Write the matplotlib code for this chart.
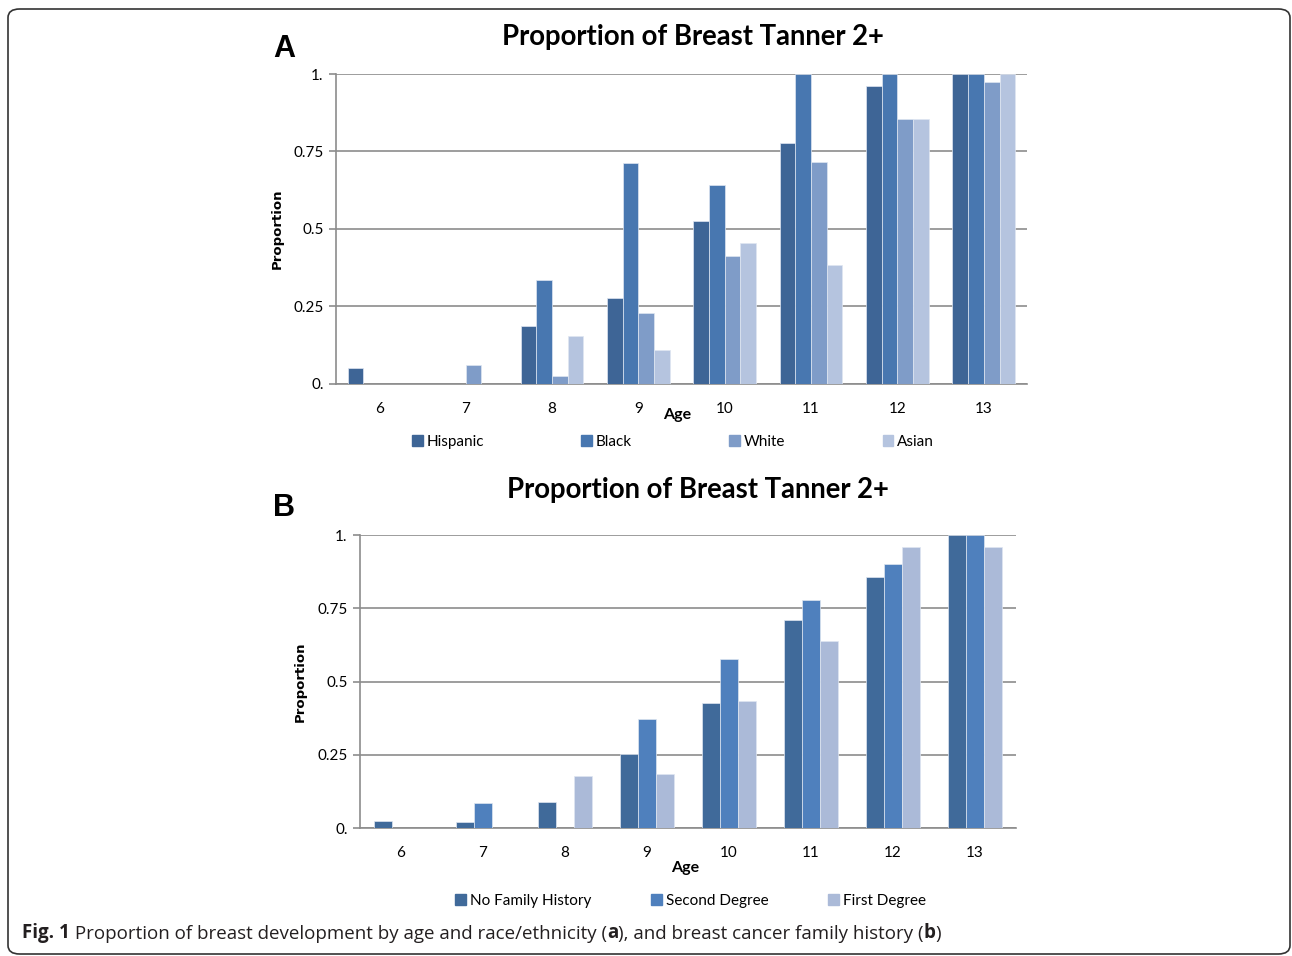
import numpy as np
import matplotlib
matplotlib.use("Agg")
import matplotlib.pyplot as plt
from matplotlib.patches import FancyBboxPatch, Patch

# ---- data ----
ages = ["6", "7", "8", "9", "10", "11", "12", "13"]

race_labels = ["Hispanic", "Black", "White", "Asian"]
hispanic = [0.053, 0.0, 0.187, 0.277, 0.526, 0.776, 0.962, 1.0]
black = [0.0, 0.0, 0.334, 0.713, 0.643, 1.0, 1.0, 1.0]
white = [0.0, 0.061, 0.025, 0.230, 0.412, 0.717, 0.856, 0.975]
asian = [0.0, 0.0, 0.155, 0.110, 0.454, 0.384, 0.856, 1.0]

hist_labels = ["No Family History", "Second Degree", "First Degree"]
no_history = [0.025, 0.022, 0.090, 0.254, 0.427, 0.711, 0.857, 1.0]
second_degree = [0.0, 0.084, 0.0, 0.372, 0.578, 0.778, 0.900, 1.0]
first_degree = [0.0, 0.0, 0.177, 0.185, 0.434, 0.639, 0.958, 0.960]

yticks = [0, 0.25, 0.5, 0.75, 1.0]
ytick_labels = ["0.", "0.25", "0.5", "0.75", "1."]

race_colors = ["#3E6596", "#4877B0", "#7F9CC8", "#B5C4DF"]
hist_colors = ["#406A9A", "#4F80BD", "#ABBAD8"]

W, H = 1292, 956
FONT = "Lato"


def fx(px):
    return px / W


def fy(py):
    return 1 - py / H


def draw_panel(ax, series, labels, colors):
    n = len(series)
    # Excel-like gap width of 150%
    width = 1.0 / (n + 1.5)
    x = np.arange(len(ages))
    for i, (vals, lab, col) in enumerate(zip(series, labels, colors)):
        offs = (i - (n - 1) / 2) * width
        ax.bar(x + offs, vals, width, color=col, label=lab,
               edgecolor="#dfe6f1", linewidth=0.5, zorder=3)
    ax.set_xlim(-0.5, len(ages) - 0.5)
    ax.set_ylim(0, 1.0)
    ax.set_xticks(x)
    ax.set_xticklabels(ages, family=FONT, fontsize=11)
    ax.set_yticks(yticks)
    ax.set_yticklabels(ytick_labels, family=FONT, fontsize=11)
    ax.tick_params(axis="x", length=0, pad=13)
    ax.tick_params(axis="y", length=5, color="#8c8c8c", width=1.2, pad=4)
    ax.grid(axis="y", color="#8c8c8c", linewidth=1.2, zorder=0)
    for s in ["top", "right"]:
        ax.spines[s].set_visible(False)
    for s in ["left", "bottom"]:
        ax.spines[s].set_color("#8c8c8c")
        ax.spines[s].set_linewidth(1.2)


def add_legend(labels, colors, x0, x1, y, ncol):
    handles = [Patch(color=c, label=l) for c, l in zip(colors, labels)]
    fig.legend(handles=handles, loc="center left", ncol=ncol, mode="expand",
               bbox_to_anchor=(fx(x0), fy(y), fx(x1) - fx(x0), 0.0001),
               frameon=False, prop={"family": FONT, "size": 11},
               handlelength=0.7, handleheight=0.7, handletextpad=0.25,
               borderaxespad=0, borderpad=0)


fig = plt.figure(figsize=(W / 100, H / 100), dpi=100)

# rounded frame around the whole figure
frame = FancyBboxPatch((fx(8), fy(954)), fx(1290) - fx(8), fy(9) - fy(954),
                       boxstyle="round,pad=0,rounding_size=0.009",
                       transform=fig.transFigure, fill=False,
                       edgecolor="#333333", linewidth=1.2)
fig.patches.append(frame)

# ---- panel A ----
axA = fig.add_axes([fx(336), fy(384), fx(1027) - fx(336), fy(74) - fy(384)])
draw_panel(axA, [hispanic, black, white, asian], race_labels, race_colors)
fig.text(fx(693), fy(37), "Proportion of Breast Tanner 2+", ha="center", va="center",
         family=FONT, fontweight="bold", fontsize=19.8)
fig.text(fx(284), fy(49), "A", ha="center", va="center",
         family="Liberation Sans", fontweight="bold", fontsize=22)
fig.text(fx(277), fy(229), "Proportion", rotation=90, ha="center", va="center",
         family="DejaVu Sans", fontweight="bold", fontsize=9.5)
fig.text(fx(677), fy(415), "Age", ha="center", va="center",
         family=FONT, fontweight="bold", fontsize=11.5)
add_legend(race_labels, race_colors, 412, 934, 442, 4)

# ---- panel B ----
axB = fig.add_axes([fx(360), fy(828), fx(1016) - fx(360), fy(535) - fy(828)])
draw_panel(axB, [no_history, second_degree, first_degree], hist_labels, hist_colors)
fig.text(fx(698), fy(490), "Proportion of Breast Tanner 2+", ha="center", va="center",
         family=FONT, fontweight="bold", fontsize=19.8)
fig.text(fx(284), fy(508), "B", ha="center", va="center",
         family="Liberation Sans", fontweight="bold", fontsize=22)
fig.text(fx(300), fy(682), "Proportion", rotation=90, ha="center", va="center",
         family="DejaVu Sans", fontweight="bold", fontsize=9.5)
fig.text(fx(685), fy(868), "Age", ha="center", va="center",
         family=FONT, fontweight="bold", fontsize=11.5)
add_legend(hist_labels, hist_colors, 455, 926, 901, 3)

# ---- caption with mixed bold / regular pieces ----
pieces = [("Fig. 1", "bold"),
          (" Proportion of breast development by age and race/ethnicity (", "normal"),
          ("a", "bold"), ("), and breast cancer family history (", "normal"),
          ("b", "bold"), (")", "normal")]
cap_style = dict(family="Open Sans", fontsize=13.5, color="#231f20")
prev = fig.text(fx(22), fy(943), pieces[0][0], ha="left", va="bottom",
                fontweight=pieces[0][1], **cap_style)
for txt, wt in pieces[1:]:
    # each piece starts where the previous one ends
    prev = axB.annotate(txt, xy=(1, 0), xycoords=prev, ha="left", va="bottom",
                        fontweight=wt, annotation_clip=False, **cap_style)

fig.savefig("out.png", dpi=100)
